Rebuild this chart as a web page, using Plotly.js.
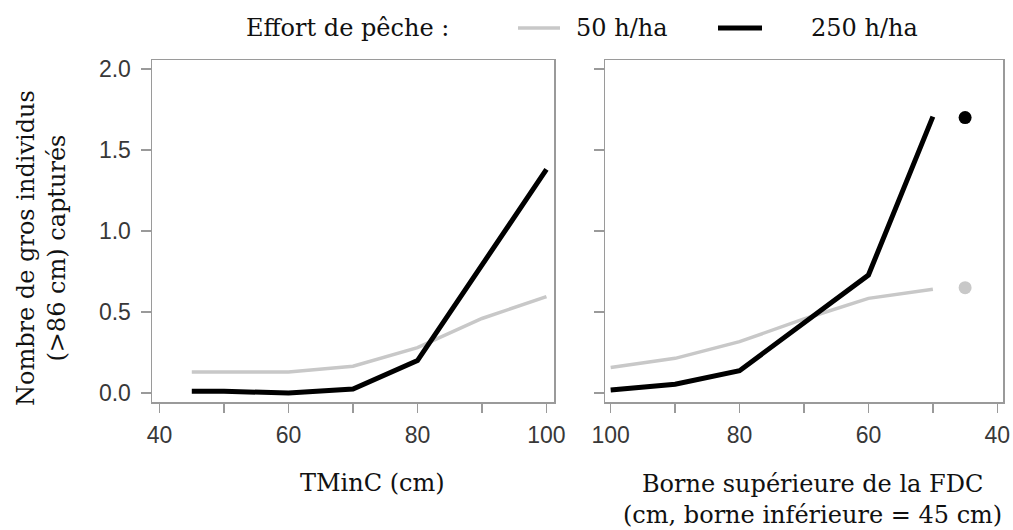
<!DOCTYPE html>
<html>
<head>
<meta charset="utf-8">
<script src="https://cdn.plot.ly/plotly-3.0.1.min.js"></script>
<style>html,body{margin:0;padding:0;background:#fff;}#chart{width:1013px;height:530px;}</style>
</head>
<body>
<div id="chart"></div>
<script>
// ---- data ----
const seriesNames = ["50 h/ha", "250 h/ha"];
const tminc = [45, 50, 60, 70, 80, 90, 100];
const tmincLow = [0.13, 0.13, 0.13, 0.165, 0.28, 0.46, 0.595];
const tmincHigh = [0.01, 0.01, 0.0, 0.025, 0.20, 0.79, 1.38];
const borneSup = [100, 90, 80, 70, 60, 50];
const borneLow = [0.158, 0.214, 0.317, 0.457, 0.584, 0.64];
const borneHigh = [0.018, 0.054, 0.138, 0.434, 0.728, 1.706];
const dotX = [45];
const dotLow = [0.65];
const dotHigh = [1.70];
const xTicksLeft = [40, 60, 80, 100];
const xTicksRight = [100, 80, 60, 40];
const yTicks = [0, 0.5, 1.0, 1.5, 2.0];

// ---- styling ----
const W = 1013, H = 530;
const M = {l: 152, r: 10, t: 60, b: 128};
const PW = W - M.l - M.r, PH = H - M.t - M.b;
const px = x => (x - M.l) / PW;
const py = y => (H - M.b - y) / PH;
const gray = '#c8c8c8', black = '#000000';
const frame = '#9a9a9a';
const serif = {family: 'DejaVu Serif, serif', size: 24, color: '#111111'};
const tickFont = {family: 'Liberation Sans, Arial, sans-serif', size: 23, color: '#383838'};

const traces = [
  {x: tminc, y: tmincLow, name: seriesNames[0], mode: 'lines', line: {color: gray, width: 3.5}, xaxis: 'x', yaxis: 'y'},
  {x: tminc, y: tmincHigh, name: seriesNames[1], mode: 'lines', line: {color: black, width: 5}, xaxis: 'x', yaxis: 'y'},
  {x: borneSup, y: borneLow, name: seriesNames[0], mode: 'lines', line: {color: gray, width: 3.5}, xaxis: 'x2', yaxis: 'y2', showlegend: false},
  {x: borneSup, y: borneHigh, name: seriesNames[1], mode: 'lines', line: {color: black, width: 5}, xaxis: 'x2', yaxis: 'y2', showlegend: false},
  {x: dotX, y: dotLow, name: seriesNames[0], mode: 'markers', marker: {color: gray, size: 13}, xaxis: 'x2', yaxis: 'y2', showlegend: false},
  {x: dotX, y: dotHigh, name: seriesNames[1], mode: 'markers', marker: {color: black, size: 13}, xaxis: 'x2', yaxis: 'y2', showlegend: false}
];

const xBase = {
  showline: true, mirror: true, linecolor: frame, linewidth: 1.5,
  showgrid: false, zeroline: false,
  ticks: 'outside', ticklen: 9, tickwidth: 1.5, tickcolor: frame,
  tickmode: 'array', tickfont: tickFont, ticklabelstandoff: 3,
  minor: {tickmode: 'linear', tick0: 40, dtick: 10, ticks: 'outside', ticklen: 9, tickwidth: 1.5, tickcolor: frame, showgrid: false}
};
const yBase = {
  showline: true, mirror: true, linecolor: frame, linewidth: 1.5,
  showgrid: false, zeroline: false, range: [-0.0556, 2.0556],
  ticks: 'outside', ticklen: 10, tickwidth: 1.5, tickcolor: frame,
  tickmode: 'array', tickvals: yTicks, ticktext: yTicks.map(v => v.toFixed(1)),
  tickfont: tickFont, ticklabelstandoff: 5
};

const layout = {
  width: W, height: H, margin: M,
  paper_bgcolor: '#fff', plot_bgcolor: '#fff',
  showlegend: false,
  xaxis: Object.assign({}, xBase, {domain: [0, px(554)], range: [38.83, 101.17], tickvals: xTicksLeft, ticktext: xTicksLeft.map(String)}),
  xaxis2: Object.assign({}, xBase, {domain: [px(605), 1], range: [100.88, 39.12], tickvals: xTicksRight, ticktext: xTicksRight.map(String), anchor: 'y2'}),
  yaxis: Object.assign({}, yBase, {anchor: 'x'}),
  yaxis2: Object.assign({}, yBase, {anchor: 'x2', showticklabels: false}),
  shapes: [
    {type: 'line', xref: 'paper', yref: 'paper', x0: px(518), x1: px(560), y0: py(28), y1: py(28), line: {color: gray, width: 3.5}},
    {type: 'line', xref: 'paper', yref: 'paper', x0: px(718), x1: px(762), y0: py(28), y1: py(28), line: {color: black, width: 5}}
  ],
  annotations: [
    {text: 'Effort de pêche :', xref: 'paper', yref: 'paper', x: px(347), y: py(28), xanchor: 'center', yanchor: 'middle', showarrow: false, font: serif},
    {text: seriesNames[0], xref: 'paper', yref: 'paper', x: px(574), y: py(28), xanchor: 'left', yanchor: 'middle', showarrow: false, font: serif},
    {text: seriesNames[1], xref: 'paper', yref: 'paper', x: px(809), y: py(28), xanchor: 'left', yanchor: 'middle', showarrow: false, font: serif},
    {text: 'TMinC (cm)', xref: 'paper', yref: 'paper', x: px(372), y: py(483), xanchor: 'center', yanchor: 'middle', showarrow: false, font: serif},
    {text: 'Borne supérieure de la FDC<br>(cm, borne inférieure = 45 cm)', xref: 'paper', yref: 'paper', x: px(812), y: py(499), xanchor: 'center', yanchor: 'middle', showarrow: false, font: serif},
    {text: 'Nombre de gros individus<br>(>86 cm) capturés', xref: 'paper', yref: 'paper', x: px(41), y: py(248), xanchor: 'center', yanchor: 'middle', textangle: -90, showarrow: false, font: serif}
  ]
};

Plotly.newPlot('chart', traces, layout, {staticPlot: true, displayModeBar: false});
</script>
</body>
</html>
